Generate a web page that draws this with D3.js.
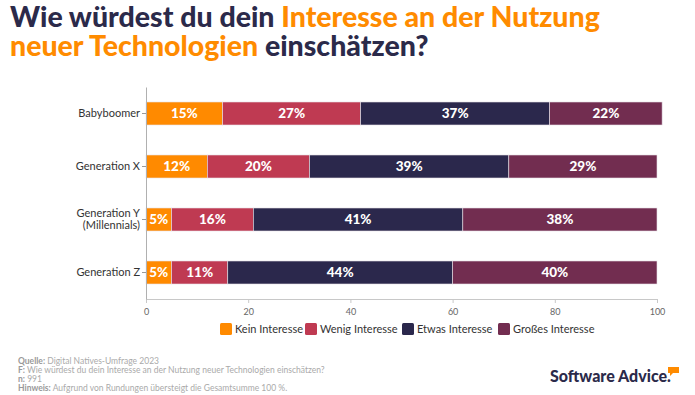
<!DOCTYPE html>
<html><head><meta charset="utf-8">
<script src="https://cdn.jsdelivr.net/npm/d3@7"></script>
<style>
body{margin:0;background:#fff;}
svg{display:block;font-family:Lato, "Noto Sans", sans-serif;}
</style></head>
<body>
<svg id="c" width="695" height="395"></svg>
<script>
const categories = ["Babyboomer", "Generation X", "Generation Y\n(Millennials)", "Generation Z"];
const seriesNames = ["Kein Interesse", "Wenig Interesse", "Etwas Interesse", "Großes Interesse"];
const kein = [15, 12, 5, 5];
const wenig = [27, 20, 16, 11];
const etwas = [37, 39, 41, 44];
const gross = [22, 29, 38, 40];
const xTicks = [0, 20, 40, 60, 80, 100];
const colors = ["#FF8A00", "#BF3A52", "#2B284C", "#722D50"];

const svg = d3.select("#c");
const values = [kein, wenig, etwas, gross];

// Title
const title = svg.append("text").attr("x", 10).attr("y", 27)
  .style("font-size", "28.5px").style("font-weight", 900);
title.append("tspan").attr("fill", "#2B2A4A").text("Wie würdest du dein ");
title.append("tspan").attr("fill", "#FF8B00").text("Interesse an der Nutzung");
const title2 = svg.append("text").attr("x", 10).attr("y", 56)
  .style("font-size", "28.5px").style("font-weight", 900);
title2.append("tspan").attr("fill", "#FF8B00").text("neuer Technologien");
title2.append("tspan").attr("fill", "#2B2A4A").text(" einschätzen?");

const x = d3.scaleLinear().domain([0, 100]).range([146, 657]);
const y = d3.scaleBand().domain(categories).range([87, 299]).paddingInner(0.566).paddingOuter(0.283);

// stacked data
const rows = categories.map((c, i) => {
  let acc = 0;
  return values.map((v, s) => {
    const seg = {cat: c, s, v: v[i], x0: acc, x1: acc + v[i]};
    acc += v[i];
    return seg;
  });
}).flat();

svg.append("g").selectAll("rect").data(rows).join("rect")
  .attr("x", d => x(d.x0)).attr("width", d => x(d.x1) - x(d.x0))
  .attr("y", d => y(d.cat)).attr("height", y.bandwidth())
  .attr("fill", d => colors[d.s])
  .attr("stroke", "#e6e0e6").attr("stroke-width", 0.6);

svg.append("g").selectAll("text").data(rows).join("text")
  .attr("x", d => (x(d.x0) + x(d.x1)) / 2)
  .attr("y", d => y(d.cat) + y.bandwidth() / 2)
  .attr("dy", "0.36em").attr("text-anchor", "middle")
  .attr("fill", "#fff").style("font-size", "13.5px").style("font-weight", 900)
  .text(d => d.v + "%");

// X axis
const xa = svg.append("g").attr("transform", "translate(0,299)")
  .call(d3.axisBottom(x).tickValues(xTicks).tickSize(4).tickPadding(6));
xa.select(".domain").attr("stroke", "#c8c8c8");
xa.selectAll(".tick line").attr("stroke", "#c8c8c8");
xa.selectAll(".tick text").attr("fill", "#666").style("font-size", "9px").style("font-family", "Lato, sans-serif");

// Y axis
const ya = svg.append("g").attr("transform", "translate(146,0)")
  .call(d3.axisLeft(y).tickSize(4).tickPadding(4).tickSizeOuter(0));
ya.select(".domain").attr("stroke", "#b0b0b0");
ya.selectAll(".tick line").attr("stroke", "#999");
ya.selectAll(".tick text").attr("fill", "#333").style("font-size", "11px").style("font-family", "Lato, sans-serif")
  .each(function(d) {
    const t = d3.select(this); const parts = d.split("\n");
    t.text(null);
    parts.forEach((p, i) => {
      t.append("tspan").attr("x", -6).attr("dy", i === 0 ? (parts.length > 1 ? "-0.2em" : "0.32em") : "1.1em").text(p);
    });
  });

// Legend
const legX = [220, 305, 402, 498];
const leg = svg.append("g").selectAll("g").data(seriesNames).join("g")
  .attr("transform", (d, i) => `translate(${legX[i]},323)`);
leg.append("rect").attr("width", 12).attr("height", 12).attr("rx", 1.5).attr("fill", (d, i) => colors[i]);
leg.append("text").attr("x", 15).attr("y", 6).attr("dy", "0.35em")
  .attr("fill", "#333").style("font-size", "11px").text(d => d);

// Footer
const foot = [["Quelle:", " Digital Natives-Umfrage 2023"],
  ["F:", " Wie würdest du dein Interesse an der Nutzung neuer Technologien einschätzen?"],
  ["n:", " 991"],
  ["Hinweis:", " Aufgrund von Rundungen übersteigt die Gesamtsumme 100 %."]];
const fy = [363.5, 373, 382, 391];
foot.forEach((f, i) => {
  const t = svg.append("text").attr("x", 18).attr("y", fy[i]).style("font-size", "8.5px");
  t.append("tspan").attr("fill", "#999").style("font-weight", 700).text(f[0]);
  t.append("tspan").attr("fill", "#aaa").text(f[1]);
});

// Logo
svg.append("text").attr("x", 550).attr("y", 382).attr("fill", "#2B2A4A")
  .style("font-size", "16px").style("font-weight", 900).text("Software Advice.");
svg.append("path").attr("d", "M668,367 h11 v6 h-6 l-3,3 v-3 h-2 z").attr("fill", "#FF8B00");
</script>
</body></html>
